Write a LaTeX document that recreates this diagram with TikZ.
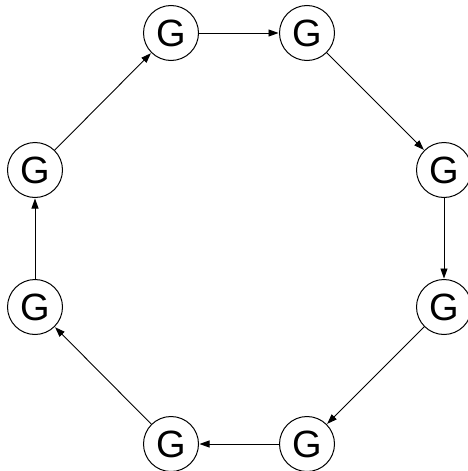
\documentclass[tikz,border=0pt]{standalone}
\usepackage{fontspec}
\setmainfont{Liberation Sans}
\usetikzlibrary{arrows.meta}
\begin{document}
\begin{tikzpicture}[x=1pt,y=-1pt,
  gnode/.style={draw,circle,line width=1pt,minimum size=55pt,inner sep=0pt,
    font=\fontsize{38}{38}\selectfont},
  edge/.style={line width=0.9pt,-{Triangle[length=10pt,width=7pt]},shorten >=0.5pt}]
\useasboundingbox (0,0) rectangle (468,471);
\node[gnode] (a) at (171,33) {G};
\node[gnode] (b) at (307,33) {G};
\node[gnode] (c) at (444,170) {G};
\node[gnode] (d) at (444,307) {G};
\node[gnode] (e) at (307,444) {G};
\node[gnode] (f) at (171,444) {G};
\node[gnode] (g) at (35,307) {G};
\node[gnode] (h) at (35,170) {G};
\draw[edge] (a) -- (b);
\draw[edge] (b) -- (c);
\draw[edge] (c) -- (d);
\draw[edge] (d) -- (e);
\draw[edge] (e) -- (f);
\draw[edge] (f) -- (g);
\draw[edge] (g) -- (h);
\draw[edge] (h) -- (a);
\end{tikzpicture}
\end{document}
